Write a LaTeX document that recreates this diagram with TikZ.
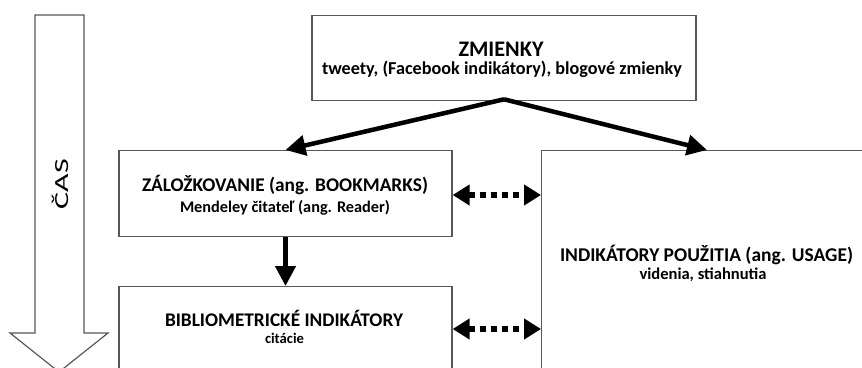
\documentclass[tikz,border=0pt]{standalone}
\usepackage{fontspec}
\setmainfont{Carlito}
\usetikzlibrary{arrows.meta}
\definecolor{boxgray}{HTML}{585858}
% set #3 in font style #2 at the size that makes it #1 pt wide
\newcommand\fitw[3]{\setbox0\hbox{\fontsize{10}{12}\selectfont#2#3}%
  \dimen0=\wd0\relax
  \pgfmathsetmacro\myfs{10*#1/\the\dimen0}%
  \fontsize{\myfs}{\myfs}\selectfont#2#3}
\tikzset{
  box/.style={draw=boxgray, line width=1.3pt, rectangle, inner sep=0pt},
  txt/.style={anchor=base, inner sep=0pt},
  flow/.style={line width=4.5pt, -{Triangle[length=20pt,width=20pt]}},
  link/.style={line width=6pt, dash pattern=on 6pt off 5pt,
    {Triangle[length=17pt,width=20pt]}-{Triangle[length=17pt,width=20pt]}},
}
\begin{document}
\begin{tikzpicture}[x=1pt,y=1pt]
\useasboundingbox (0,0) rectangle (862,-367);
% time arrow
\draw[draw=boxgray, line width=1.2pt, fill=white] (35,-15) -- (84,-15) -- (84,-333) -- (108,-333) -- (59,-372) -- (10,-333) -- (35,-333) -- cycle;
\node[rotate=90, inner sep=0pt] (cas) at (60,-184) {\scalebox{1.6}[1]{\fontsize{20}{22}\selectfont ČAS}};
% boxes
\node[box, minimum width=384pt, minimum height=85pt, anchor=north] (zm) at (504,-15) {};
\node[box, minimum width=333pt, minimum height=86pt, anchor=north] (zal) at (285.5,-150) {};
\node[box, minimum width=333pt, minimum height=120pt, anchor=north] (bib) at (285.5,-286) {};
\node[box, minimum width=400pt, minimum height=300pt, anchor=north west] (use) at (541,-150) {};
% texts
\node[txt] (zmt) at (501,-56) {\fitw{85}{\bfseries}{ZMIENKY}};
\node[txt] (zms) at (502,-74) {\fitw{360}{\bfseries}{tweety, (Facebook indikátory), blogové zmienky}};
\node[txt] (zalt) at (285,-191) {\fitw{286}{\bfseries}{ZÁLOŽKOVANIE (ang. BOOKMARKS)}};
\node[txt] (zals) at (285,-212) {\fitw{210}{\bfseries}{Mendeley čitateľ (ang. Reader)}};
\node[txt] (bibt) at (284,-326) {\fitw{238}{\bfseries}{BIBLIOMETRICKÉ INDIKÁTORY}};
\node[txt] (bibs) at (284.5,-343) {\fitw{39}{\bfseries}{citácie}};
\node[txt] (uset) at (706.5,-261) {\fitw{293}{\bfseries}{INDIKÁTORY POUŽITIA (ang. USAGE)}};
\node[txt] (uses) at (703,-279) {\fitw{127}{\bfseries}{videnia, stiahnutia}};
% connectors
\coordinate (zmb) at ([yshift=2pt]zm.south);
\coordinate (usetop) at (707,-150);
\draw[flow] (zmb) -- (zal.north);
\draw[flow] (zmb) -- (usetop);
\draw[flow] (zal.south) -- (bib.north);
\coordinate (l1) at (452,-195);
\coordinate (l2) at (452,-329);
\draw[link] (l1 -| zal.east) -- (l1 -| use.west);
\draw[link] (l2 -| bib.east) -- (l2 -| use.west);
\end{tikzpicture}
\end{document}
